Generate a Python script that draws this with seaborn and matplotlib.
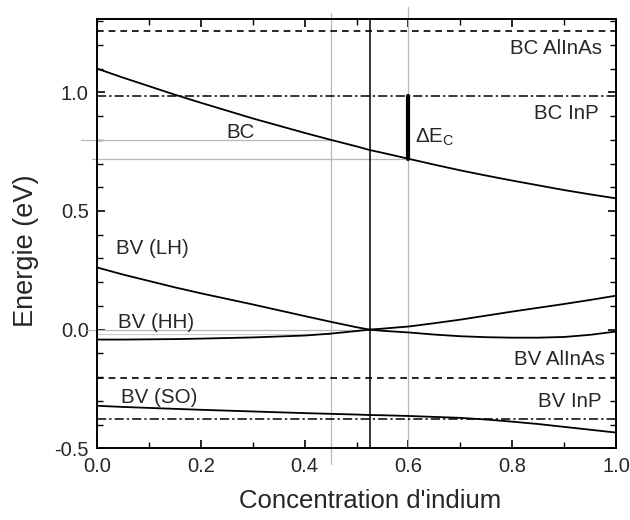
import numpy as np
import pandas as pd
import matplotlib
matplotlib.use("Agg")
import matplotlib.pyplot as plt
import seaborn as sns
from matplotlib.ticker import MultipleLocator

# ---- data ----
x_in = [0.0, 0.05, 0.1, 0.15, 0.2, 0.3, 0.4, 0.45, 0.5, 0.525, 0.55, 0.6, 0.65,
        0.7, 0.75, 0.8, 0.85, 0.9, 0.95, 1.0]
bc = [1.100, 1.062, 1.026, 0.990, 0.956, 0.890, 0.829, 0.800, 0.772, 0.757, 0.745,
      0.720, 0.695, 0.671, 0.649, 0.628, 0.608, 0.588, 0.570, 0.553]
bv_lh = [0.262, 0.232, 0.205, 0.178, 0.153, 0.106, 0.057, 0.033, 0.010, 0.000,
         -0.005, -0.012, -0.021, -0.028, -0.032, -0.034, -0.034, -0.031, -0.022, -0.008]
bv_hh = [-0.042, -0.042, -0.041, -0.040, -0.038, -0.033, -0.025, -0.017, -0.006,
         0.000, 0.004, 0.013, 0.027, 0.042, 0.059, 0.076, 0.092, 0.108, 0.125, 0.143]
bv_so = [-0.321, -0.326, -0.330, -0.334, -0.338, -0.345, -0.352, -0.355, -0.358,
         -0.360, -0.361, -0.364, -0.368, -0.372, -0.379, -0.388, -0.398, -0.410,
         -0.422, -0.434]

bc_alinas = 1.257
bc_inp = 0.983
bv_alinas = -0.203
bv_inp = -0.375

x_match = 0.525     # lattice matched composition (black vertical)
x_gray = [0.45, 0.60]
bc_gray = [0.797, 0.717]
dEc_x = 0.60

xticks = [0.0, 0.2, 0.4, 0.6, 0.8, 1.0]
yticks = [-0.5, 0.0, 0.5, 1.0]

n = len(x_in)
df = pd.DataFrame({
    "x": x_in * 4,
    "E": bc + bv_lh + bv_hh + bv_so,
    "band": ["BC"] * n + ["LH"] * n + ["HH"] * n + ["SO"] * n,
})

sns.set_theme(style="white")
plt.rcParams["font.family"] = ["Liberation Sans", "DejaVu Sans"]
plt.rcParams["mathtext.default"] = "regular"

fig = plt.figure(figsize=(6.3, 5.2), dpi=100)
ax = fig.add_axes([0.154, 0.138, 0.824, 0.825])

# reference gray guides
gray = "#b8b8b8"
ax.plot([x_gray[0]] * 2, [-0.565, 1.335], color=gray, lw=0.9, clip_on=False, zorder=1)
ax.plot([x_gray[1]] * 2, [-0.5, 1.36], color=gray, lw=0.9, clip_on=False, zorder=1)
ax.plot([-0.03, x_gray[0]], [bc_gray[0]] * 2, color=gray, lw=0.9, clip_on=False, zorder=1)
ax.plot([-0.01, x_gray[1]], [bc_gray[1]] * 2, color=gray, lw=0.9, clip_on=False, zorder=1)
ax.plot([-0.02, 0.55], [0.0, 0.0], color=gray, lw=0.9, clip_on=False, zorder=1)
ax.plot([0.0, 0.45], [-0.02, -0.02], color="#d0d0d0", lw=0.8, zorder=1)

# material band edges
ax.axhline(bc_alinas, color="black", lw=1.2, ls=(0, (4, 3)), zorder=2)
ax.axhline(bv_alinas, color="black", lw=1.2, ls=(0, (4, 3)), zorder=2)
ax.axhline(bc_inp, color="black", lw=1.1, ls=(0, (6, 2, 1.5, 2)), zorder=2)
ax.axhline(bv_inp, color="black", lw=1.1, ls=(0, (6, 2, 1.5, 2)), zorder=2)

# bands of GaInAs
sns.lineplot(data=df, x="x", y="E", units="band", estimator=None, color="black",
             lw=1.3, ax=ax, legend=False, zorder=3)

# lattice match vertical
ax.axvline(x_match, color="black", lw=1.1, zorder=2)
# Delta Ec bar
ax.plot([dEc_x, dEc_x], [bc_gray[1], bc_inp], color="black", lw=3.0, zorder=4)

# labels
fs = 14.8
ax.text(0.276, 0.83, "BC", fontsize=fs, ha="center", va="center")
ax.text(0.972, 1.186, "BC AlInAs", fontsize=fs, ha="right", va="center")
ax.text(0.966, 0.91, "BC InP", fontsize=fs, ha="right", va="center")
ax.text(0.613, 0.81, r"$\Delta$E$_C$", fontsize=fs, ha="left", va="center")
ax.text(0.037, 0.342, "BV (LH)", fontsize=fs, ha="left", va="center")
ax.text(0.041, 0.028, "BV (HH)", fontsize=fs, ha="left", va="center")
ax.text(0.047, -0.285, "BV (SO)", fontsize=fs, ha="left", va="center")
ax.text(0.978, -0.127, "BV AlInAs", fontsize=fs, ha="right", va="center")
ax.text(0.972, -0.303, "BV InP", fontsize=fs, ha="right", va="center")

ax.set_xlim(0.0, 1.0)
ax.set_ylim(-0.5, 1.308)
ax.set_xticks(xticks)
ax.set_yticks(yticks)
ax.xaxis.set_minor_locator(MultipleLocator(0.1))
ax.yaxis.set_minor_locator(MultipleLocator(0.1))
ax.tick_params(which="both", direction="in", top=True, right=True, bottom=True, left=True,
               color="black", labelsize=14.5, pad=6)
ax.tick_params(which="major", length=6, width=1.2)
ax.tick_params(which="minor", length=4, width=1.0)
for s in ax.spines.values():
    s.set_color("black")
    s.set_linewidth(1.4)
ax.set_xticklabels([f"{t:.1f}" for t in xticks])
ax.set_yticklabels([f"{t:.1f}" for t in yticks])

ax.set_xlabel("Concentration d'indium", fontsize=18.5)
ax.set_ylabel("Energie (eV)", fontsize=19.5)
ax.xaxis.set_label_coords(0.526, -0.095)
ax.yaxis.set_label_coords(-0.112, 0.46)

fig.savefig("out.png", dpi=100, facecolor="white")
